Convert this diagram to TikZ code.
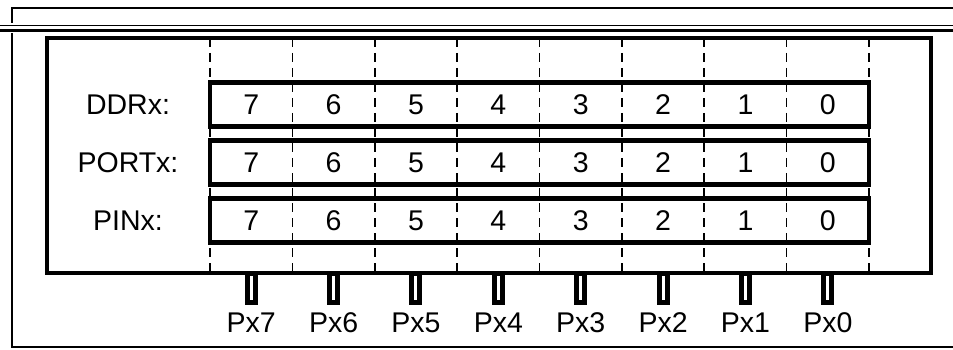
\documentclass[tikz,border=0pt]{standalone}
\usepackage{fontspec}
\setmainfont{Liberation Sans}
\begin{document}
\begin{tikzpicture}[x=1pt,y=-1pt,
  thinframe/.style={line width=1.8pt},
  thickbox/.style={line width=4.8pt},
  divider/.style={line width=1.7pt, dash pattern=on 9pt off 6pt},
  lbl/.style={font=\fontsize{28.5}{32}\selectfont, inner sep=0pt},
  pinshape/.style={draw, line width=5pt, fill=white}]
\useasboundingbox (0,0) rectangle (953,350);
% outer frame
\draw[thinframe] (953,8) -- (12,8) -- (12,347) -- (953,347);
% double rule
\fill[white] (0,23) rectangle (953,33);
\draw[line width=1.5pt] (0,25.5) -- (953,25.5);
\draw[line width=2.2pt] (0,30.5) -- (953,30.5);
% bit column dividers
\foreach \i in {0,...,8}
  \draw[divider] ({210+82.375*\i},38) -- ({210+82.375*\i},273);
% pins
\foreach \b in {0,...,7} {
  \pgfmathsetmacro{\px}{869-82.375*(\b+0.5)}
  \draw[pinshape] (\px-4,273) rectangle (\px+4,302.5);
  \node[lbl] (px\b) at (\px,323) {Px\b};
}
% inner box
\draw[thickbox] (47,38) rectangle (931,273);
% registers
\foreach \r/\y/\name in {ddr/104.7/DDRx:, port/162.5/PORTx:, pinr/220.5/PINx:} {
  \draw[thickbox] (210,\y-22) rectangle (869,\y+22);
  \node[lbl] (\r-label) at (128,\y) {\name};
  \foreach \b in {0,...,7}
    \node[lbl] (\r-\b) at ({869-82.375*(\b+0.5)},\y) {\b};
}
\end{tikzpicture}
\end{document}
